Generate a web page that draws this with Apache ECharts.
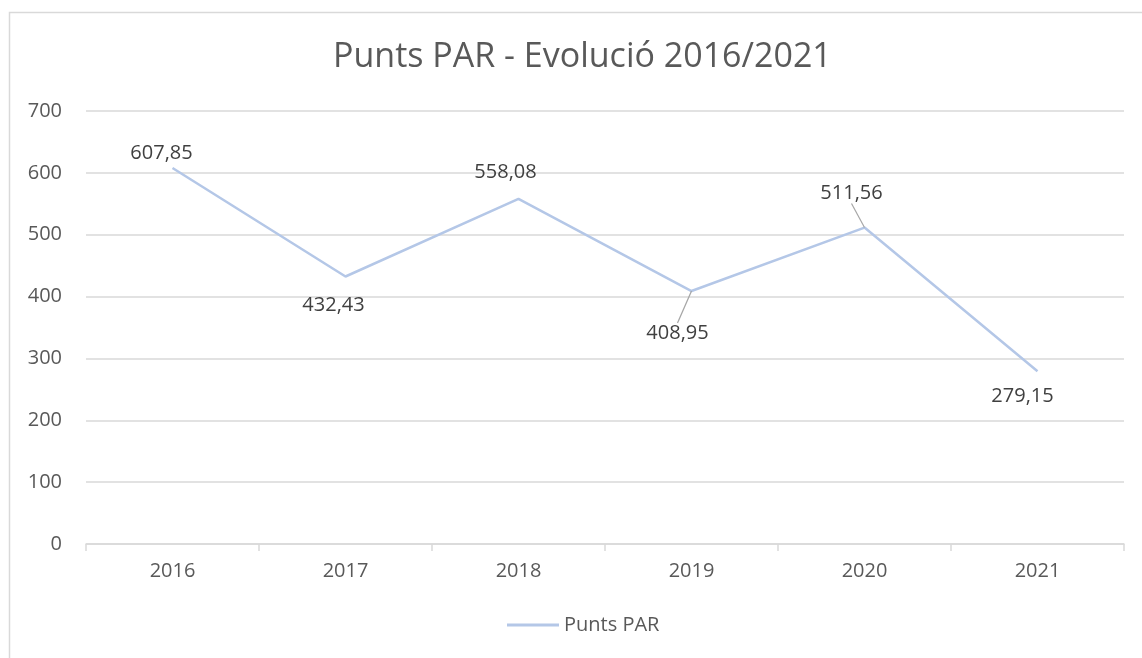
<!DOCTYPE html>
<html><head><meta charset="utf-8">
<script src="https://cdn.jsdelivr.net/npm/echarts@6/dist/echarts.min.js"></script>
<style>html,body{margin:0;padding:0;background:#fff}#c{width:1142px;height:658px}</style>
</head><body><div id="c"></div>
<script>
const categories = ['2016','2017','2018','2019','2020','2021'];
const values = [607.85, 432.43, 558.08, 408.95, 511.56, 279.15];
const labelOffsets = [[-11,-15],[-12,29],[-13,-26],[-14,42],[-13,-34],[-15,25]];
const leaderIdx = [3,4];
const yTicks = {min:0, max:700, interval:100};
const FONT = '"Open Sans", "Liberation Sans", sans-serif';

const chart = echarts.init(document.getElementById('c'), null, {renderer:'canvas'});
chart.setOption({
  backgroundColor:'#fff',
  animation:false,
  title:{text:'Punts PAR - Evolució 2016/2021', left:328, top:35,
    textStyle:{fontFamily:FONT, fontSize:34, fontWeight:'normal', color:'#595959'}},
  graphic:[{type:'rect', shape:{x:9.5,y:12.5,width:1200,height:700}, style:{fill:'none', stroke:'#d9d9d9', lineWidth:1.5}, silent:true}],
  legend:{bottom:18, left:502, itemWidth:52, itemHeight:10, itemGap:4, icon:'path://M0,3.5 L52,3.5 L52,6.5 L0,6.5 Z',
    itemStyle:{color:'#b4c7e7', opacity:1},
    textStyle:{fontFamily:FONT, fontSize:20, color:'#595959'}, data:['Punts PAR']},
  grid:{left:86, right:18, top:111, bottom:114},
  xAxis:{type:'category', data:categories, boundaryGap:true,
    axisLine:{lineStyle:{color:'#d9d9d9', width:1.5}},
    axisTick:{show:true, length:7, lineStyle:{color:'#d9d9d9', width:1.5}},
    axisLabel:{fontFamily:FONT, fontSize:20, color:'#595959', margin:17}},
  yAxis:{type:'value', min:yTicks.min, max:yTicks.max, interval:yTicks.interval,
    axisLine:{show:false}, axisTick:{show:false},
    splitLine:{lineStyle:{color:'#d9d9d9', width:1.5}},
    axisLabel:{fontFamily:FONT, fontSize:20, color:'#595959', margin:24, align:'right'}},
  series:[{name:'Punts PAR', type:'line', symbol:'circle', symbolSize:0.01, showSymbol:true,
    lineStyle:{color:'#b4c7e7', width:2.5}, itemStyle:{color:'#b4c7e7'},
    data: values.map((v,i)=>({value:v, labelLine:{show: leaderIdx.includes(i), lineStyle:{color:'#a6a6a6', width:1.2}}})),
    label:{show:true, position:'inside', opacity:1, fontFamily:FONT, fontSize:20, color:'#404040',
      formatter:p=>p.value.toFixed(2).replace('.',',')},
    labelLayout:p=>({dx:labelOffsets[p.dataIndex][0], dy:labelOffsets[p.dataIndex][1]}),
    labelLine:{show:false}
  }]
});
</script></body></html>
